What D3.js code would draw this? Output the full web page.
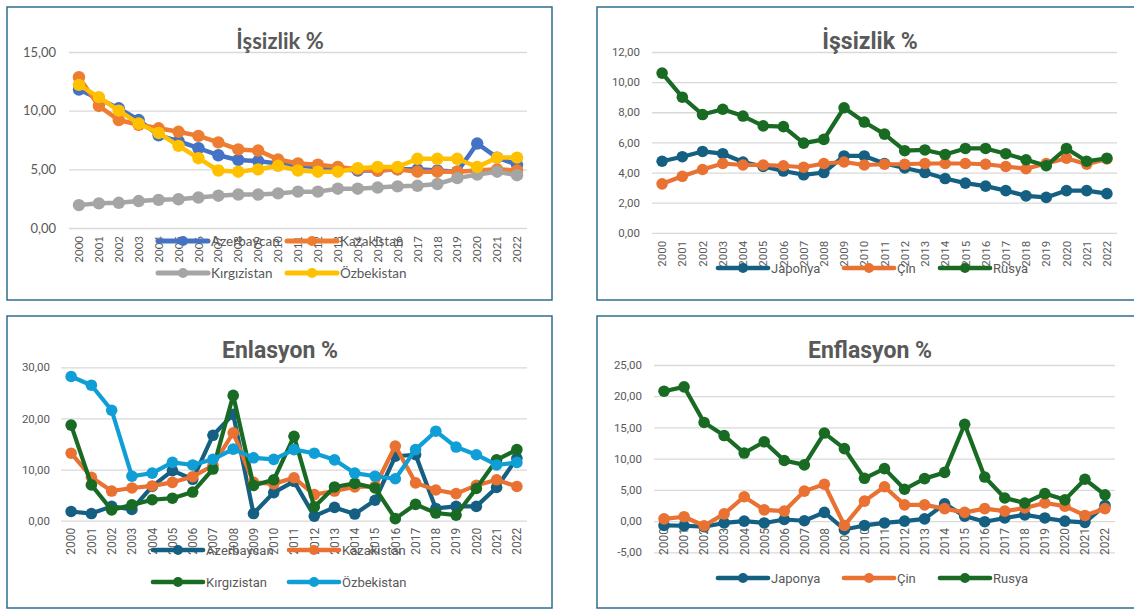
<!DOCTYPE html>
<html>
<head>
<meta charset="utf-8">
<script src="https://cdn.jsdelivr.net/npm/d3@7"></script>
<style>
  body { margin: 0; background: #fff; }
  svg { display: block; }
</style>
</head>
<body>
<script>
// Categories
const years = ["2000", "2001", "2002", "2003", "2004", "2005", "2006", "2007", "2008", "2009", "2010",
  "2011", "2012", "2013", "2014", "2015", "2016", "2017", "2018", "2019", "2020", "2021", "2022"];

// Issizlik % - Orta Asya
const unempAze = [11.8, 11.0, 10.2, 9.2, 7.9, 7.4, 6.8, 6.2, 5.8, 5.7, 5.5, 5.3, 5.2, 5.0, 4.9, 4.9, 5.0, 5.0, 4.9, 4.8, 7.2, 6.0, 5.4];
const unempKaz = [12.85, 10.4, 9.2, 8.8, 8.5, 8.2, 7.85, 7.3, 6.7, 6.6, 5.85, 5.5, 5.4, 5.2, 5.0, 4.9, 5.0, 4.8, 4.8, 4.8, 4.9, 5.0, 4.9];
const unempKgz = [1.95, 2.1, 2.15, 2.3, 2.4, 2.45, 2.6, 2.75, 2.85, 2.85, 2.95, 3.1, 3.1, 3.35, 3.35, 3.45, 3.55, 3.6, 3.75, 4.25, 4.55, 4.8, 4.5];
const unempUzb = [12.2, 11.15, 10.0, 8.9, 8.1, 7.0, 5.95, 4.9, 4.8, 5.0, 5.3, 4.9, 4.8, 4.8, 5.1, 5.2, 5.2, 5.9, 5.9, 5.9, 5.2, 6.0, 6.0];

// Issizlik % - Japonya, Cin, Rusya
const unempJpn = [4.75, 5.05, 5.4, 5.25, 4.7, 4.4, 4.1, 3.85, 4.0, 5.1, 5.1, 4.6, 4.3, 4.0, 3.6, 3.3, 3.1, 2.8, 2.45, 2.35, 2.8, 2.8, 2.6];
const unempChn = [3.25, 3.75, 4.2, 4.6, 4.5, 4.5, 4.45, 4.35, 4.6, 4.7, 4.5, 4.55, 4.55, 4.6, 4.6, 4.6, 4.55, 4.4, 4.25, 4.6, 4.95, 4.55, 4.9];
const unempRus = [10.6, 9.0, 7.85, 8.2, 7.75, 7.1, 7.05, 5.95, 6.2, 8.3, 7.35, 6.55, 5.45, 5.5, 5.2, 5.6, 5.6, 5.25, 4.85, 4.45, 5.6, 4.75, 4.95];

// Enflasyon % - Orta Asya
const inflAze = [1.8, 1.4, 2.8, 2.2, 6.7, 9.8, 8.1, 16.7, 20.8, 1.4, 5.5, 7.7, 0.9, 2.6, 1.3, 4.0, 12.6, 12.9, 2.4, 2.8, 2.8, 6.5, 12.2];
const inflKaz = [13.2, 8.5, 5.8, 6.4, 6.8, 7.5, 8.6, 10.8, 17.2, 7.5, 7.2, 8.4, 5.1, 5.8, 6.6, 6.7, 14.6, 7.4, 6.0, 5.3, 6.9, 8.0, 6.7];
const inflKgz = [18.7, 7.0, 2.1, 3.1, 4.1, 4.4, 5.6, 10.1, 24.5, 6.9, 8.0, 16.5, 2.7, 6.6, 7.3, 6.4, 0.4, 3.2, 1.5, 1.1, 6.3, 11.9, 13.9];
const inflUzb = [28.2, 26.5, 21.6, 8.7, 9.3, 11.4, 10.9, 12.0, 14.0, 12.3, 12.0, 13.9, 13.2, 11.9, 9.3, 8.7, 8.2, 13.9, 17.5, 14.4, 12.9, 10.9, 11.4];

// Enflasyon % - Japonya, Cin, Rusya
const inflJpn = [-0.7, -0.75, -0.9, -0.3, 0.0, -0.3, 0.25, 0.05, 1.4, -1.35, -0.7, -0.3, 0.0, 0.35, 2.75, 0.8, -0.1, 0.5, 1.0, 0.5, 0.0, -0.2, 2.5];
const inflChn = [0.35, 0.7, -0.75, 1.15, 3.9, 1.8, 1.6, 4.8, 5.9, -0.7, 3.2, 5.5, 2.6, 2.6, 2.0, 1.4, 2.0, 1.6, 2.1, 2.9, 2.4, 0.9, 2.0];
const inflRus = [20.8, 21.5, 15.8, 13.7, 10.9, 12.7, 9.7, 9.0, 14.1, 11.6, 6.85, 8.4, 5.1, 6.8, 7.8, 15.5, 7.05, 3.7, 2.9, 4.4, 3.4, 6.7, 4.2];

// Axis ticks
const ticksP1 = [0, 5, 10, 15];
const ticksP2 = [0, 2, 4, 6, 8, 10, 12];
const ticksP3 = [0, 10, 20, 30];
const ticksP4 = [-5, 0, 5, 10, 15, 20, 25];

const trNum = d3.formatLocale({decimal: ",", thousands: ".", grouping: [3], currency: ["", ""], minus: "-"}).format(".2f");

const W = 1134, H = 610;
const svg = d3.select("body").append("svg")
    .attr("width", W)
    .attr("height", H);

function drawPanel(p) {
  const g = svg.append("g").style("font-family", p.font);

  g.append("rect")
      .attr("x", p.box[0]).attr("y", p.box[1])
      .attr("width", p.box[2]).attr("height", p.box[3])
      .attr("fill", "#fff")
      .attr("stroke", "#2f6d8f")
      .attr("stroke-width", 1.5);

  const x = d3.scaleBand().domain(years).range([p.x0, p.x1]);
  const cx = d => x(d) + x.bandwidth() / 2;
  const y = d3.scaleLinear().domain(p.domain).range([p.yBottom, p.yTop]);

  // gridlines + value labels
  const yAxis = g.append("g")
      .attr("transform", `translate(${p.x0},0)`)
      .call(d3.axisLeft(y).tickValues(p.ticks).tickSize(-(p.x1 - p.x0)).tickPadding(p.yPad).tickFormat(trNum));
  yAxis.select(".domain").remove();
  yAxis.selectAll(".tick line").attr("stroke", "#d9d9d9").attr("stroke-width", 1.3);
  yAxis.selectAll(".tick text")
      .attr("fill", "#595959")
      .style("font-size", p.yFont + "px")
      .style("font-family", p.font);

  // year labels at the zero line
  const xAxis = g.append("g")
      .attr("transform", `translate(0,${y(0)})`)
      .call(d3.axisBottom(x).tickSize(0));
  xAxis.select(".domain").remove();
  xAxis.selectAll(".tick text")
      .attr("transform", "rotate(-90)")
      .attr("x", -p.xPad)
      .attr("y", 0)
      .attr("dy", "0.36em")
      .attr("fill", "#595959")
      .style("text-anchor", "end")
      .style("font-size", p.xFont + "px")
      .style("font-family", p.font);

  g.append("text")
      .attr("x", p.titleX)
      .attr("y", p.titleY)
      .attr("text-anchor", "middle")
      .attr("fill", "#595959")
      .style("font-size", p.titleSize + "px")
      .style("font-weight", "bold")
      .text(p.title);

  const line = d3.line().x((d, i) => cx(years[i])).y(d => y(d));

  p.series.forEach(s => {
    const sg = g.append("g");
    sg.append("path")
        .datum(s.values)
        .attr("d", line)
        .attr("fill", "none")
        .attr("stroke", s.color)
        .attr("stroke-width", p.lineW)
        .attr("stroke-linejoin", "round");
    sg.selectAll("circle")
        .data(s.values)
        .join("circle")
        .attr("cx", (d, i) => cx(years[i]))
        .attr("cy", d => y(d))
        .attr("r", p.r)
        .attr("fill", s.color);
  });

  // legend
  p.series.forEach((s, i) => {
    const [lx, ly] = p.legend[i];
    const lg = g.append("g").attr("transform", `translate(${lx},${ly})`);
    lg.append("line")
        .attr("x1", 0).attr("x2", 50)
        .attr("stroke", s.color)
        .attr("stroke-width", p.lineW + 0.5)
        .attr("stroke-linecap", "round");
    lg.append("circle").attr("cx", 25).attr("r", 5).attr("fill", s.color);
    lg.append("text")
        .attr("x", 53)
        .attr("dy", "0.35em")
        .attr("fill", "#595959")
        .style("font-size", p.legFont + "px")
        .text(s.name);
  });
}

const c13 = ["#4472c4", "#ed7d31", "#a5a5a5", "#ffc000"];
const c23 = ["#156082", "#e97132", "#196b24", "#0f9ed5"];

drawPanel({
  font: "Lato, 'Open Sans', sans-serif",
  box: [7, 7, 545, 293],
  x0: 69, x1: 527, yBottom: 228, yTop: 52,
  domain: [0, 15], ticks: ticksP1,
  yPad: 13, yFont: 13, xFont: 11.5, xPad: 8,
  title: "İşsizlik %", titleX: 280, titleY: 49, titleSize: 22,
  lineW: 4.5, r: 6.2, legFont: 13.5,
  series: [
    {name: "Azerbaycan", color: c13[0], values: unempAze},
    {name: "Kazakistan", color: c13[1], values: unempKaz},
    {name: "Kırgızistan", color: c13[2], values: unempKgz},
    {name: "Özbekistan", color: c13[3], values: unempUzb}
  ],
  legend: [[158, 241], [287, 241], [158, 273], [287, 273]]
});

drawPanel({
  font: "Roboto, sans-serif",
  box: [597, 7, 545, 293],
  x0: 652, x1: 1117, yBottom: 232.8, yTop: 52,
  domain: [0, 12], ticks: ticksP2,
  yPad: 12, yFont: 11.5, xFont: 11.5, xPad: 8,
  title: "İşsizlik %", titleX: 870, titleY: 49, titleSize: 23,
  lineW: 4.2, r: 5.8, legFont: 13,
  series: [
    {name: "Japonya", color: c23[0], values: unempJpn},
    {name: "Çin", color: c23[1], values: unempChn},
    {name: "Rusya", color: c23[2], values: unempRus}
  ],
  legend: [[718, 268], [844, 268], [940, 268]]
});

drawPanel({
  font: "Roboto, sans-serif",
  box: [7, 316, 545, 292],
  x0: 61, x1: 527, yBottom: 520.7, yTop: 367.3,
  domain: [0, 30], ticks: ticksP3,
  yPad: 11, yFont: 11.5, xFont: 12, xPad: 7,
  title: "Enlasyon %", titleX: 280, titleY: 358, titleSize: 23,
  lineW: 4.2, r: 5.8, legFont: 13,
  series: [
    {name: "Azerbaycan", color: c23[0], values: inflAze},
    {name: "Kazakistan", color: c23[1], values: inflKaz},
    {name: "Kırgızistan", color: c23[2], values: inflKgz},
    {name: "Özbekistan", color: c23[3], values: inflUzb}
  ],
  legend: [[153, 550], [289, 550], [153, 582], [289, 582]]
});

drawPanel({
  font: "Roboto, sans-serif",
  box: [597, 316, 545, 292],
  x0: 654, x1: 1115, yBottom: 552.3, yTop: 365,
  domain: [-5, 25], ticks: ticksP4,
  yPad: 12, yFont: 11.5, xFont: 12, xPad: 7,
  title: "Enflasyon %", titleX: 870, titleY: 358, titleSize: 23,
  lineW: 4.2, r: 5.8, legFont: 13,
  series: [
    {name: "Japonya", color: c23[0], values: inflJpn},
    {name: "Çin", color: c23[1], values: inflChn},
    {name: "Rusya", color: c23[2], values: inflRus}
  ],
  legend: [[718, 578], [844, 578], [940, 578]]
});
</script>
</body>
</html>
